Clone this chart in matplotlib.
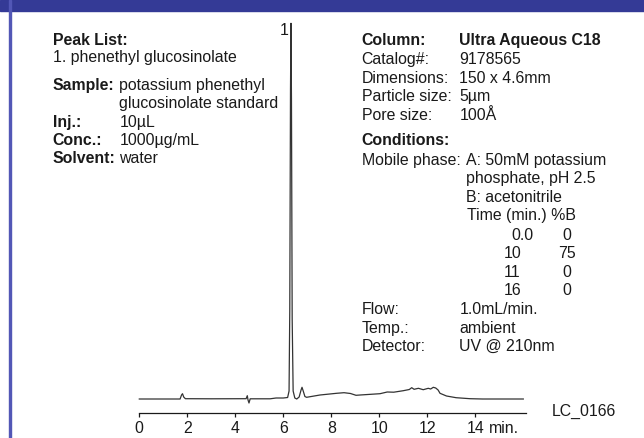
import matplotlib

matplotlib.use("Agg")
import matplotlib.pyplot as plt  # noqa: E402
from matplotlib.patches import Rectangle  # noqa: E402

W, H = 644, 438
BAND, EDGE, INK, TRACE = "#343a96", "#5257b6", "#1a1a1a", "#333333"
plt.rcParams["font.family"] = ["Liberation Sans", "DejaVu Sans"]
FS = 11.4

# chromatogram (time in min, signal in arbitrary units)
t = [0.0, 1.0, 1.70, 1.76, 1.80, 1.85, 1.92, 3.0, 4.45, 4.50, 4.53, 4.57, 4.62,
     5.45, 5.7, 6.0, 6.18, 6.24, 6.27, 6.30, 6.32, 6.34, 6.37, 6.41, 6.48,
     6.56, 6.66, 6.74, 6.78, 6.83, 6.90, 6.97, 7.53, 8.22, 8.53, 8.80, 9.03,
     9.20, 10.03, 10.33, 10.60, 11.0, 11.25, 11.35, 11.45, 11.63, 11.83, 12.04,
     12.14, 12.25, 12.35, 12.45, 12.53, 12.80, 13.2, 13.78, 14.3, 16.0]
y = [0.0, 0.0, 0.0, 4.0, 5.3, 2.0, 0.3, 0.2, 0.3, 3.3, -1.0, -4.0, 0.2,
     0.2, 1.0, 1.0, 1.5, 8.0, 90.0, 310.0, 375.7, 300.0, 80.0, 8.0, 1.0,
     0.0, 2.0, 9.0, 11.7, 8.0, 2.5, 1.7, 4.0, 5.7, 6.3, 5.5, 3.7,
     4.0, 5.3, 7.0, 6.8, 8.3, 9.5, 11.3, 9.7, 10.7, 9.3, 10.7,
     10.0, 11.7, 11.0, 9.0, 5.7, 3.0, 1.3, 0.3, 0.0, 0.0]
xticks = [0, 2, 4, 6, 8, 10, 12, 14]

peak_list = ["1. phenethyl glucosinolate"]
sample_rows = [("Sample:", "potassium phenethyl"), ("", "glucosinolate standard"),
               ("Inj.:", "10µL"), ("Conc.:", "1000µg/mL"), ("Solvent:", "water")]
column_rows = [("Catalog#:", "9178565"), ("Dimensions:", "150 x 4.6mm"),
               ("Particle size:", "5µm"), ("Pore size:", "100Å")]
mobile_lines = ["A: 50mM potassium", "phosphate, pH 2.5", "B: acetonitrile",
                "Time (min.) %B"]
grad_time = ["0.0", "10", "11", "16"]
grad_b = ["0", "75", "0", "0"]
tail_rows = [("Flow:", "1.0mL/min."), ("Temp.:", "ambient"),
             ("Detector:", "UV @ 210nm")]

fig = plt.figure(figsize=(W / 100, H / 100), dpi=100)


def put(x, yb, s, **kw):
    # x, baseline in picture pixels
    kw.setdefault("fontsize", FS)
    kw.setdefault("color", INK)
    fig.text(x / W, 1 - yb / H, s, va="baseline", **kw)


# frame: header band and left rule
fig.patches.append(Rectangle((0, 1 - 10.7 / H), 1, 10.7 / H, transform=fig.transFigure,
                             color=BAND, zorder=5))
fig.patches.append(Rectangle((9 / W, 0), 1.7 / W, 1, transform=fig.transFigure,
                             color=EDGE, zorder=5))

ax = fig.add_axes([139.3 / W, (H - 413.3) / H, 386.4 / W, 390 / H])
ax.plot(t, y, color=TRACE, lw=0.9, clip_on=False)
ax.set_xlim(0, 16.1)
ax.set_ylim(-14.3, 375.7)
for s in ("top", "right", "left"):
    ax.spines[s].set_visible(False)
ax.spines["bottom"].set_color(INK)
ax.spines["bottom"].set_linewidth(0.9)
ax.set_yticks([])
ax.set_xticks(xticks)
ax.set_xticklabels([str(v) for v in xticks])
ax.tick_params(axis="x", direction="out", length=3, width=0.9, pad=2.5,
               labelsize=FS, colors=INK)
ax.annotate("min.", xy=(14, 0), xycoords=("data", "axes fraction"),
            xytext=(9.5, -5.5), textcoords="offset points", ha="left", va="top",
            fontsize=FS, color=INK)

# peak label
put(280, 35, "1")

# left block
put(52.7, 45, "Peak List:", fontweight="bold")
put(52.7, 61.7, peak_list[0])
for i, (lab, val) in enumerate(sample_rows):
    yb = 90 + 18.3 * i
    if lab:
        put(52.7, yb, lab, fontweight="bold")
    put(119.3, yb, val)

# right block
put(361.7, 45, "Column:", fontweight="bold")
put(459.3, 45, "Ultra Aqueous C18", fontweight="bold")
for i, (lab, val) in enumerate(column_rows):
    yb = 64.3 + 18.4 * i
    put(361.7, yb, lab)
    put(459.3, yb, val)
put(361.7, 145, "Conditions:", fontweight="bold")
put(361.7, 165, "Mobile phase:")
for i, line in enumerate(mobile_lines):
    put(466 if i < 3 else 467.3, 165 + 18.4 * i, line)
for i, (tm, b) in enumerate(zip(grad_time, grad_b)):
    yb = 240 + 18.3 * i
    put(511.7 if "." in tm else 503.3, yb, tm)
    put(566.5, yb, b, ha="center")
for i, (lab, val) in enumerate(tail_rows):
    yb = 314.3 + 18.4 * i
    put(361.7, yb, lab)
    put(459.3, yb, val)

put(551.5, 415.5, "LC_0166")

fig.savefig("out.png", dpi=100, facecolor="white")
